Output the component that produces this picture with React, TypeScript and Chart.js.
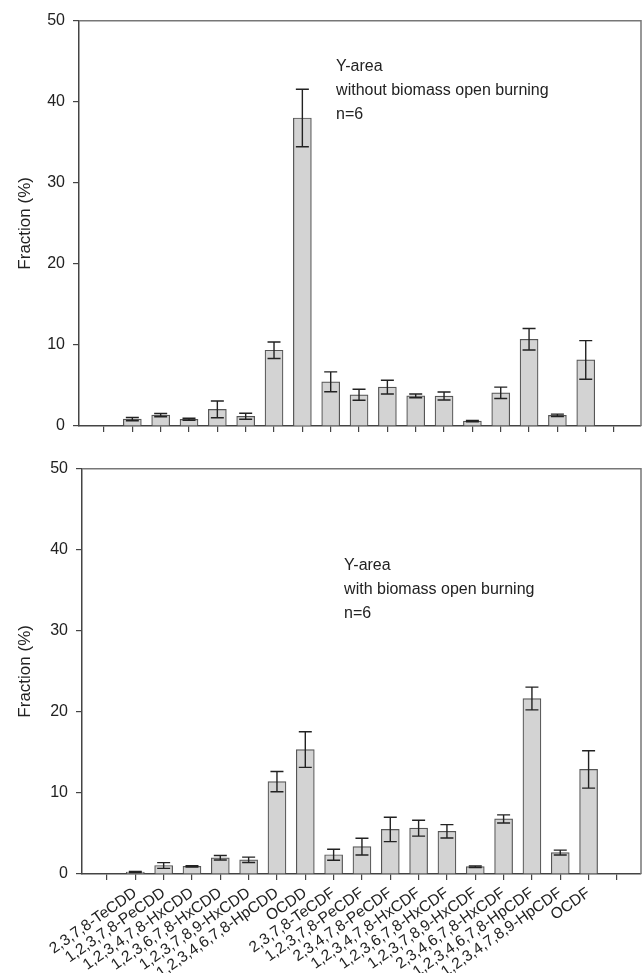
import React, { useEffect, useRef } from 'react';
import { Chart, registerables } from 'chart.js';
Chart.register(...registerables);

const congeners = [
  '2,3,7,8-TeCDD',
  '1,2,3,7,8-PeCDD',
  '1,2,3,4,7,8-HxCDD',
  '1,2,3,6,7,8-HxCDD',
  '1,2,3,7,8,9-HxCDD',
  '1,2,3,4,6,7,8-HpCDD',
  'OCDD',
  '2,3,7,8-TeCDF',
  '1,2,3,7,8-PeCDF',
  '2,3,4,7,8-PeCDF',
  '1,2,3,4,7,8-HxCDF',
  '1,2,3,6,7,8-HxCDF',
  '1,2,3,7,8,9-HxCDF',
  '2,3,4,6,7,8-HxCDF',
  '1,2,3,4,6,7,8-HpCDF',
  '1,2,3,4,7,8,9-HpCDF',
  'OCDF',
];

const topValues = [0.85, 1.35, 0.83, 2.05, 1.2, 9.35, 38.0, 5.45, 3.85, 4.8, 3.72, 3.7, 0.6, 4.1, 10.7, 1.32, 8.15];
const topErrors = [0.2, 0.2, 0.12, 1.03, 0.37, 1.02, 3.55, 1.23, 0.68, 0.85, 0.23, 0.5, 0.08, 0.7, 1.32, 0.15, 2.38];
const bottomValues = [0.25, 1.05, 0.95, 2.0, 1.75, 11.4, 15.35, 2.38, 3.38, 5.5, 5.65, 5.27, 0.9, 6.8, 21.65, 2.65, 12.9];
const bottomErrors = [0.06, 0.35, 0.08, 0.28, 0.33, 1.25, 2.2, 0.68, 1.03, 1.5, 0.98, 0.82, 0.1, 0.5, 1.4, 0.3, 2.3];

const slots = Array.from({ length: 19 }, (_, i) => i);
const yTicks = [0, 10, 20, 30, 40, 50];
const topNote = ['Y-area', 'without biomass open burning', 'n=6'];
const bottomNote = ['Y-area', 'with biomass open burning', 'n=6'];

const FONT = "'Liberation Sans', Arial, Helvetica, sans-serif";

const errorBarPlugin = {
  id: 'errorBars',
  afterDatasetsDraw(chart: any) {
    const { ctx } = chart;
    const y = chart.scales.y;
    chart.data.datasets.forEach((ds: any, di: number) => {
      const meta = chart.getDatasetMeta(di);
      meta.data.forEach((el: any, i: number) => {
        const v = ds.data[i].y;
        const e = ds.errors[i];
        const x = el.x;
        const yt = y.getPixelForValue(v + e);
        const yb = y.getPixelForValue(v - e);
        const hw = 6.5;
        ctx.save();
        ctx.strokeStyle = '#222';
        ctx.lineWidth = 1.4;
        ctx.beginPath();
        ctx.moveTo(x, yt);
        ctx.lineTo(x, yb);
        ctx.moveTo(x - hw, yt);
        ctx.lineTo(x + hw, yt);
        ctx.moveTo(x - hw, yb);
        ctx.lineTo(x + hw, yb);
        ctx.stroke();
        ctx.restore();
      });
    });
  },
};

const framePlugin = {
  id: 'frame',
  afterDraw(chart: any) {
    const { ctx, chartArea } = chart;
    ctx.save();
    ctx.strokeStyle = '#777';
    ctx.lineWidth = 1.5;
    ctx.beginPath();
    ctx.moveTo(chartArea.left, chartArea.top);
    ctx.lineTo(chartArea.right, chartArea.top);
    ctx.lineTo(chartArea.right, chartArea.bottom);
    ctx.stroke();
    ctx.restore();
  },
};

const notePlugin = {
  id: 'note',
  afterDraw(chart: any, _args: any, opts: any) {
    const { ctx } = chart;
    const x = chart.scales.x.getPixelForValue(opts.x);
    const y0 = chart.scales.y.getPixelForValue(opts.y);
    ctx.save();
    ctx.fillStyle = '#222';
    ctx.font = `16px ${FONT}`;
    ctx.textAlign = 'left';
    ctx.textBaseline = 'middle';
    opts.lines.forEach((t: string, i: number) => {
      ctx.fillText(t, x, y0 + i * opts.spacing);
    });
    ctx.restore();
  },
};

function makeConfig(
  values: number[],
  errors: number[],
  o: { showLabels: boolean; xMin: number; xMax: number; yWidth: number; padTop: number; xHeight: number; note: string[]; noteX: number; noteY: number }
): any {
  return {
    type: 'bar',
    data: {
      datasets: [
        {
          data: values.map((v, i) => ({ x: i + 1, y: v })),
          errors,
          backgroundColor: '#d3d3d3',
          borderColor: '#555',
          borderWidth: 1.2,
          barThickness: 18,
        },
      ],
    },
    options: {
      animation: false,
      responsive: false,
      layout: { padding: { top: o.padTop, right: 1, left: 0, bottom: 0 } },
      plugins: {
        legend: { display: false },
        tooltip: { enabled: false },
        note: { lines: o.note, x: o.noteX, y: o.noteY, spacing: 24 },
      },
      scales: {
        x: {
          type: 'linear',
          offset: false,
          min: o.xMin,
          max: o.xMax,
          afterBuildTicks: (s: any) => {
            s.ticks = slots.map((v) => ({ value: v }));
          },
          afterFit: (s: any) => {
            s.height = o.xHeight;
          },
          grid: { offset: false, drawOnChartArea: false, drawTicks: true, tickLength: 6, color: '#444', lineWidth: 1.2 },
          border: { color: '#444', width: 1.5 },
          ticks: {
            autoSkip: false,
            maxRotation: 35,
            minRotation: 35,
            padding: 4,
            labelOffset: 0,
            color: '#222',
            font: { size: 15.5, family: FONT },
            callback: (v: number) => (o.showLabels ? congeners[v - 1] ?? '' : ''),
          },
        },
        y: {
          min: 0,
          max: 50,
          afterBuildTicks: (s: any) => {
            s.ticks = yTicks.map((v) => ({ value: v }));
          },
          afterFit: (s: any) => {
            s.width = o.yWidth;
          },
          grid: { drawOnChartArea: false, drawTicks: true, tickLength: 6, color: '#444', lineWidth: 1.2 },
          border: { color: '#444', width: 1.5 },
          ticks: { padding: 8, color: '#222', font: { size: 16, family: FONT } },
          title: {
            display: true,
            text: 'Fraction (%)',
            color: '#222',
            font: { size: 17, family: FONT },
            padding: { top: 15, bottom: 0 },
          },
        },
      },
    },
    plugins: [errorBarPlugin, framePlugin, notePlugin],
  };
}

export default function App() {
  const topRef = useRef<HTMLCanvasElement>(null);
  const botRef = useRef<HTMLCanvasElement>(null);

  useEffect(() => {
    const c1 = new Chart(
      topRef.current as HTMLCanvasElement,
      makeConfig(topValues, topErrors, {
        showLabels: false,
        xMin: -0.882,
        xMax: 18.95,
        yWidth: 79,
        padTop: 20.7,
        xHeight: 20,
        note: topNote,
        noteX: 8.19,
        noteY: 44.3,
      })
    );
    const c2 = new Chart(
      botRef.current as HTMLCanvasElement,
      makeConfig(bottomValues, bottomErrors, {
        showLabels: true,
        xMin: -0.882,
        xMax: 18.85,
        yWidth: 82,
        padTop: 18.7,
        xHeight: 99,
        note: bottomNote,
        noteX: 8.37,
        noteY: 38,
      })
    );
    return () => {
      c1.destroy();
      c2.destroy();
    };
  }, []);

  return (
    <div style={{ position: 'absolute', left: 0, top: 0, width: 642, height: 973, background: '#fff' }}>
      <canvas ref={topRef} width={642} height={446} style={{ position: 'absolute', left: 0, top: 0, width: 642, height: 446 }} />
      <canvas ref={botRef} width={642} height={523} style={{ position: 'absolute', left: 0, top: 450, width: 642, height: 523 }} />
    </div>
  );
}
